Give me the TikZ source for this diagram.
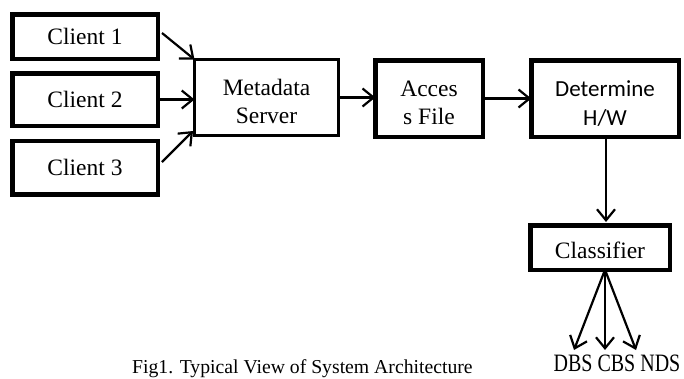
\documentclass[tikz,border=0pt]{standalone}
\usepackage{fontspec}
\setmainfont{Liberation Serif}
\newfontfamily\calib{Carlito}
\usetikzlibrary{arrows.meta}
\newcommand{\dn}[1]{\rule{0pt}{#1}}
\begin{document}
\begin{tikzpicture}[x=1pt,y=-1pt,
  box/.style={draw,line width=4.5pt,inner sep=0pt,outer sep=0pt,align=center,font=\fontsize{23.5}{28}\selectfont},
  conn/.style={line width=2.2pt,-{Straight Barb[length=11pt,width=18pt,line width=2.2pt]}}]
\useasboundingbox (0,0) rectangle (684,378);
\clip (0,0) rectangle (684,378);
\node[box,minimum width=145.5pt,minimum height=44.5pt] (c1) at (85,36.5) {Client 1};
\node[box,minimum width=145.5pt,minimum height=52.5pt] (c2) at (85,99.5) {Client 2};
\node[box,minimum width=145.5pt,minimum height=53.5pt] (c3) at (85,167.5) {Client 3};
\node[box,line width=3.5pt,minimum width=144pt,minimum height=76pt] (ms) at (266.5,97.5) {\dn{24pt}Metadata\\Server};
\node[box,minimum width=107.5pt,minimum height=76.5pt] (af) at (429,98.5) {\dn{24pt}Acces\\s File};
\node[box,minimum width=147.5pt,minimum height=76.5pt,font=\calib\fontsize{23}{29}\selectfont] (dh) at (605,98.5) {\dn{26pt}Determine\\H/W};
\node[box,minimum width=139.5pt,minimum height=44.5pt] (cl) at (600,247.5) {\dn{22pt}Classifier};
\coordinate (t1) at (574,350);
\coordinate (t2) at (605,350);
\coordinate (t3) at (636,350);
\draw[conn] (162,33) -- (ms.north west);
\draw[conn] (c2.east) -- (ms.west |- c2.east);
\draw[conn] (162,162) -- (193,131);
\draw[conn] (ms.east) -- (af.west |- ms.east);
\draw[conn] (af.east) -- (dh.west |- af.east);
\draw[conn] (dh.south -| 606,0) -- (606,222);
\draw[conn] (cl.south -| 605,0) -- (t1);
\draw[conn] (cl.south -| 605,0) -- (t2);
\draw[conn] (cl.south -| 605,0) -- (t3);
\node[anchor=base,inner sep=0pt,font=\fontsize{25}{28}\selectfont,xscale=0.8] (lbl) at (617,371) {DBS CBS NDS};
\node[anchor=base west,inner sep=0pt,font=\fontsize{19.7}{24}\selectfont] (cap) at (132,373.5) {Fig1. Typical View of System Architecture};
\end{tikzpicture}
\end{document}
